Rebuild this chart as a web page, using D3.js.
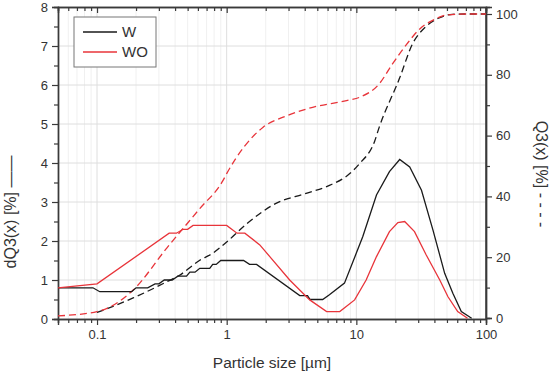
<!DOCTYPE html>
<html>
<head>
<meta charset="utf-8">
<script src="https://cdn.jsdelivr.net/npm/d3@7"></script>
<style>
  body { margin: 0; background: #fff; }
  text { font-family: "Liberation Sans", Arial, sans-serif; fill: #333; }
</style>
</head>
<body>
<script>
// dQ3 (solid) data
const wX = [0.05, 0.093, 0.105, 0.185, 0.2, 0.246, 0.28, 0.3, 0.33, 0.38, 0.42, 0.49, 0.52, 0.57, 0.62, 0.74, 0.78, 0.83, 0.9, 1.35, 1.5, 1.7, 3.66, 4.2, 4.4, 5.5, 6.2, 8.1, 10, 11.2, 14.3, 18, 21.6, 25.8, 31.8, 39, 48, 55.5, 64.5, 77.5]
const wY = [0.8, 0.8, 0.7, 0.7, 0.8, 0.8, 0.9, 0.9, 1.0, 1.0, 1.1, 1.1, 1.2, 1.2, 1.3, 1.3, 1.4, 1.4, 1.5, 1.5, 1.4, 1.4, 0.6, 0.6, 0.5, 0.5, 0.62, 0.92, 1.69, 2.11, 3.18, 3.78, 4.09, 3.9, 3.3, 2.28, 1.17, 0.66, 0.19, 0.02]
const woX = [0.05, 0.1, 0.36, 0.41, 0.46, 0.5, 0.55, 1.0, 1.2, 1.38, 1.8, 2.15, 3.06, 4.37, 5.9, 7.45, 9.7, 11.9, 14.3, 18, 20.9, 23.6, 28.1, 34.6, 44, 50.9, 60.5, 72]
const woY = [0.8, 0.9, 2.2, 2.2, 2.3, 2.3, 2.4, 2.4, 2.2, 2.2, 1.9, 1.6, 1.0, 0.49, 0.19, 0.19, 0.49, 1.0, 1.6, 2.24, 2.47, 2.5, 2.24, 1.64, 1.0, 0.57, 0.19, 0.02]

// Q3 (dashed) data
const qwX = [0.1, 0.19, 0.345, 0.43, 0.62, 0.78, 1.0, 1.43, 2.4, 4.1, 6.2, 8.9, 10.6, 13.8, 15, 21.6, 27, 34.7, 44, 55, 70, 100]
const qwY = [1.8, 6.6, 11.9, 14, 19, 21.3, 25, 31, 37.7, 41, 43.6, 47.5, 50.8, 58, 62.7, 79, 90, 96, 98.8, 99.9, 100, 100]
const qoX = [0.05, 0.1, 0.19, 0.345, 0.62, 0.93, 1.0, 1.9, 2.9, 4.6, 8.4, 10.6, 15, 19, 24.4, 30.7, 41, 50, 70, 100]
const qoY = [0.7, 2.1, 9.2, 23, 36, 45, 47.5, 62.7, 66.5, 69.3, 71.5, 72.6, 77, 83.6, 90, 95, 98.4, 99.7, 100, 100]

const xTicks = [0.1, 1, 10, 100]
const yTicks = [0, 1, 2, 3, 4, 5, 6, 7, 8]
const y2Ticks = [0, 20, 40, 60, 80, 100]
const seriesNames = ['W', 'WO']

const W = 550, H = 378
const m = { left: 58, right: 64, top: 7, bottom: 59 }
const RED = '#e8343a', BLACK = '#1a1a1a', AXIS = '#3a3a3a'

const svg = d3.select('body').append('svg').attr('width', W).attr('height', H)

const x = d3.scaleLog().domain([0.05, 100]).range([m.left, W - m.right])
const y = d3.scaleLinear().domain([0, 8]).range([H - m.bottom, m.top])
const y2 = d3.scaleLinear().domain([0, 102.3]).range([H - m.bottom - 1, m.top])

// minor decade positions
let minorX = []
for (let d = 0.01; d <= 10; d *= 10) {
  for (let k = 2; k <= 9; k++) {
    let v = +(d * k).toPrecision(3)
    if (v >= 0.05 && v <= 100) minorX.push(v)
  }
}

// grid
const grid = svg.append('g')
grid.selectAll('.vm').data(minorX).join('line')
  .attr('x1', d => x(d)).attr('x2', d => x(d))
  .attr('y1', m.top).attr('y2', H - m.bottom)
  .attr('stroke', '#f0f0f0').attr('stroke-width', 1)
grid.selectAll('.vM').data(xTicks).join('line')
  .attr('x1', d => x(d)).attr('x2', d => x(d))
  .attr('y1', m.top).attr('y2', H - m.bottom)
  .attr('stroke', '#dedede').attr('stroke-width', 1)
grid.selectAll('.h').data(yTicks.slice(1, -1)).join('line')
  .attr('x1', m.left).attr('x2', W - m.right)
  .attr('y1', d => y(d)).attr('y2', d => y(d))
  .attr('stroke', '#dedede').attr('stroke-width', 1)

// axes
const fmt = d => d >= 1 ? d3.format('d')(d) : String(d)
const axBottom = svg.append('g').attr('transform', `translate(0,${H - m.bottom})`)
  .call(d3.axisBottom(x).tickValues(xTicks).tickFormat(fmt).tickSize(6).tickPadding(5))
axBottom.append('g').call(d3.axisBottom(x).tickValues(minorX).tickFormat('').tickSize(4))

const axTop = svg.append('g').attr('transform', `translate(0,${m.top})`)
  .call(d3.axisBottom(x).tickValues(xTicks).tickFormat('').tickSize(6))
axTop.append('g').call(d3.axisBottom(x).tickValues(minorX).tickFormat('').tickSize(4))

const axLeft = svg.append('g').attr('transform', `translate(${m.left},0)`)
  .call(d3.axisLeft(y).tickValues(yTicks).tickSize(6).tickPadding(4))
axLeft.append('g').call(d3.axisLeft(y).tickValues(d3.range(0.5, 8, 1)).tickFormat('').tickSize(4))

const axRight = svg.append('g').attr('transform', `translate(${W - m.right},0)`)
  .call(d3.axisRight(y2).tickValues(y2Ticks).tickSize(6).tickPadding(4))
axRight.append('g').call(d3.axisRight(y2).tickValues([10, 30, 50, 70, 90]).tickFormat('').tickSize(4))

svg.selectAll('.domain').attr('stroke', AXIS).attr('stroke-width', 1.4)
svg.selectAll('.tick line').attr('stroke', AXIS).attr('stroke-width', 1.2)
svg.selectAll('.tick text').style('font-size', '13px').attr('fill', '#2a2a2a')
// extend right axis line to top of frame
svg.append('line').attr('x1', W - m.right).attr('x2', W - m.right)
  .attr('y1', m.top).attr('y2', H - m.bottom).attr('stroke', AXIS).attr('stroke-width', 1.4)

// lines
const line = d3.line().x(d => x(d[0])).y(d => y(d[1]))
const line2 = d3.line().x(d => x(d[0])).y(d => y2(d[1])).curve(d3.curveMonotoneX)
const plot = svg.append('g')

plot.append('path').datum(d3.zip(qwX, qwY)).attr('d', line2)
  .attr('fill', 'none').attr('stroke', BLACK).attr('stroke-width', 1.3).attr('stroke-dasharray', '7,4')
plot.append('path').datum(d3.zip(qoX, qoY)).attr('d', line2)
  .attr('fill', 'none').attr('stroke', RED).attr('stroke-width', 1.3).attr('stroke-dasharray', '7,4')
plot.append('path').datum(d3.zip(wX, wY)).attr('d', line)
  .attr('fill', 'none').attr('stroke', BLACK).attr('stroke-width', 1.3)
plot.append('path').datum(d3.zip(woX, woY)).attr('d', line)
  .attr('fill', 'none').attr('stroke', RED).attr('stroke-width', 1.3)

// legend
const lg = svg.append('g').attr('transform', 'translate(74,17)')
lg.append('rect').attr('width', 82).attr('height', 50)
  .attr('fill', '#fff').attr('stroke', '#777').attr('stroke-width', 1)
seriesNames.forEach((n, i) => {
  lg.append('line').attr('x1', 9).attr('x2', 43).attr('y1', 15 + i * 20).attr('y2', 15 + i * 20)
    .attr('stroke', i ? RED : BLACK).attr('stroke-width', 1.4)
  lg.append('text').attr('x', 48).attr('y', 15 + i * 20).attr('dy', '0.36em')
    .style('font-size', '15px').text(n)
})

// axis titles
svg.append('text').attr('x', (m.left + W - m.right) / 2).attr('y', 368)
  .attr('text-anchor', 'middle').style('font-size', '15.5px').text('Particle size [\u00b5m]')
svg.append('text').attr('transform', 'translate(16,212) rotate(-90)')
  .attr('text-anchor', 'middle').style('font-size', '16px').text('dQ3(x) [%] \u2014\u2014')
svg.append('text').attr('transform', 'translate(536,174) rotate(90)')
  .attr('text-anchor', 'middle').style('font-size', '16px').text('Q3(x) [%] - - - -')
</script>
</body>
</html>
